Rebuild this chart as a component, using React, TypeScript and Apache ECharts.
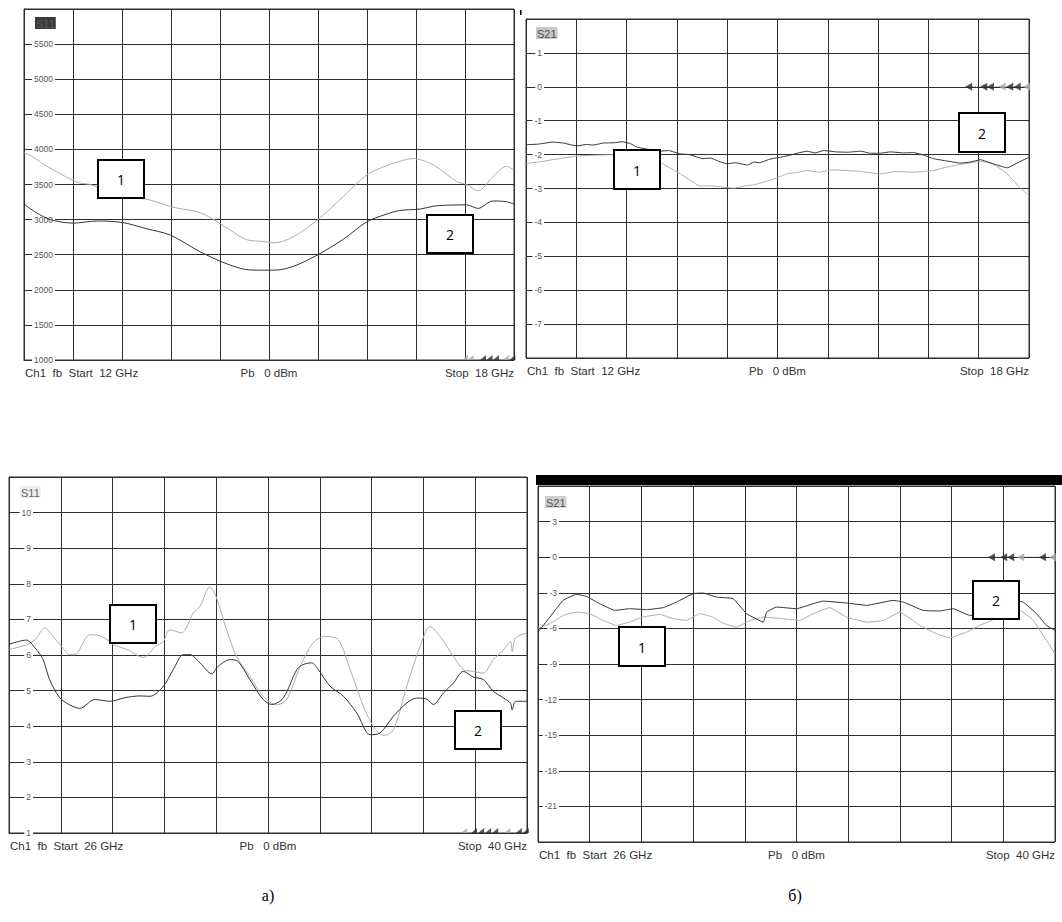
import React, { useEffect, useRef } from "react";
import * as echarts from "echarts";

// ---------- sweep ranges (GHz) ----------
const sweepLow = [12, 18];
const sweepHigh = [26, 40];

// ---------- y scales ----------
const s11LowScale = [1000, 6000, 500];
const s21LowScale = [-8, 2, 1];
const s11HighScale = [1, 11, 1];
const s21HighScale = [-24, 6, 3];

// ---------- traces [GHz, value] ----------
// a) 12–18 GHz, S11
const s11LowTrace1 = [
  [12.0, 3950], [12.1, 3900], [12.25, 3780], [12.45, 3650], [12.65, 3530], [12.81, 3500],
  [13.0, 3420], [13.3, 3330], [13.54, 3280], [13.85, 3170], [14.16, 3100], [14.46, 2900],
  [14.71, 2720], [14.89, 2690], [15.07, 2670], [15.29, 2750], [15.6, 3000], [15.91, 3330],
  [16.2, 3640], [16.42, 3760], [16.6, 3830], [16.76, 3870], [17.01, 3780], [17.3, 3540],
  [17.42, 3500], [17.56, 3410], [17.74, 3610], [17.91, 3760], [18.0, 3700],
];
const s11LowTrace2 = [
  [12.0, 3220], [12.15, 3100], [12.32, 3000], [12.6, 2950], [12.9, 2980], [13.2, 2960],
  [13.5, 2870], [13.79, 2780], [14.16, 2540], [14.46, 2380], [14.71, 2290], [14.89, 2280],
  [15.07, 2280], [15.29, 2330], [15.6, 2500], [15.91, 2720], [16.2, 2970], [16.42, 3070],
  [16.6, 3130], [16.85, 3150], [17.01, 3190], [17.18, 3205], [17.42, 3210], [17.56, 3160],
  [17.74, 3265], [17.91, 3255], [18.0, 3220],
];
// б) 12–18 GHz, S21
const s21LowTrace1 = [
  [12.0, -2.26], [12.15, -2.22], [12.32, -2.15], [12.45, -2.1], [12.62, -2.04], [12.8, -2.02],
  [12.92, -2.01], [13.15, -2.0], [13.4, -2.05], [13.6, -2.23], [13.84, -2.57], [14.08, -2.93],
  [14.2, -2.92], [14.32, -2.95], [14.48, -2.99], [14.6, -2.93], [14.72, -2.89], [14.85, -2.8],
  [14.96, -2.72], [15.11, -2.57], [15.25, -2.52], [15.35, -2.47], [15.5, -2.52], [15.65, -2.45],
  [15.83, -2.47], [16.0, -2.5], [16.22, -2.57], [16.4, -2.5], [16.62, -2.52], [16.86, -2.47],
  [17.0, -2.38], [17.18, -2.29], [17.42, -2.2], [17.57, -2.27], [17.74, -2.57], [17.89, -2.97],
  [18.0, -3.21],
];
const s21LowTrace2 = [
  [12.0, -1.71], [12.15, -1.69], [12.32, -1.63], [12.45, -1.66], [12.55, -1.72], [12.62, -1.74],
  [12.72, -1.7], [12.8, -1.72], [12.92, -1.66], [13.05, -1.65], [13.15, -1.62], [13.25, -1.68],
  [13.32, -1.78], [13.45, -1.84], [13.6, -1.9], [13.7, -1.88], [13.84, -1.98], [13.95, -2.0],
  [14.11, -2.12], [14.2, -2.1], [14.3, -2.2], [14.4, -2.27], [14.5, -2.24], [14.64, -2.31],
  [14.72, -2.22], [14.79, -2.24], [14.9, -2.14], [15.03, -2.08], [15.15, -2.02], [15.25, -1.95],
  [15.35, -1.9], [15.45, -1.95], [15.55, -1.88], [15.7, -1.92], [15.83, -1.93], [16.0, -1.9],
  [16.1, -1.96], [16.22, -1.96], [16.35, -1.92], [16.5, -1.95], [16.62, -1.94], [16.75, -2.02],
  [16.86, -2.12], [17.0, -2.18], [17.18, -2.25], [17.3, -2.22], [17.42, -2.15], [17.57, -2.27],
  [17.74, -2.39], [17.88, -2.22], [18.0, -2.08],
];
// a) 26–40 GHz, S11
const s11HighTrace1 = [
  [26.0, 6.15], [26.47, 6.29], [26.7, 6.43], [26.97, 6.76], [27.19, 6.52], [27.42, 6.24],
  [27.64, 6.01], [27.78, 6.01], [28.18, 6.57], [28.45, 6.54], [28.72, 6.38], [28.81, 6.29],
  [29.2, 6.15], [29.63, 5.93], [29.96, 6.24], [30.17, 6.38], [30.35, 6.71], [30.66, 6.62],
  [30.98, 7.18], [31.16, 7.37], [31.43, 7.91], [31.61, 7.6], [31.88, 6.71], [32.15, 5.96],
  [32.51, 5.4], [32.87, 4.84], [33.23, 4.6], [33.5, 4.74], [33.87, 5.68], [34.22, 6.34],
  [34.54, 6.52], [34.9, 6.43], [35.22, 5.59], [35.58, 4.56], [35.85, 3.99], [36.12, 3.74],
  [36.39, 3.9], [36.75, 5.12], [37.11, 6.24], [37.38, 6.8], [37.65, 6.52], [38.01, 5.96],
  [38.28, 5.59], [38.55, 5.54], [38.82, 5.49], [39.09, 5.87], [39.37, 6.15], [39.55, 6.38],
  [39.6, 6.1], [39.69, 6.48], [40.0, 6.62],
];
const s11HighTrace2 = [
  [26.0, 6.3], [26.47, 6.42], [26.7, 6.2], [26.91, 5.9], [27.1, 5.3], [27.37, 4.8],
  [27.64, 4.6], [27.91, 4.5], [28.32, 4.75], [28.72, 4.7], [29.13, 4.8], [29.54, 4.85],
  [29.81, 4.84], [30.17, 5.12], [30.44, 5.59], [30.71, 6.01], [30.89, 6.01], [31.16, 5.78],
  [31.48, 5.47], [31.65, 5.68], [31.97, 5.87], [32.19, 5.82], [32.51, 5.31], [32.87, 4.75],
  [33.1, 4.61], [33.41, 4.79], [33.78, 5.59], [33.95, 5.73], [34.18, 5.78], [34.36, 5.59],
  [34.68, 5.12], [35.04, 4.84], [35.4, 4.37], [35.76, 3.76], [36.03, 3.81], [36.39, 4.28],
  [36.75, 4.65], [37.02, 4.79], [37.29, 4.76], [37.47, 4.61], [37.74, 4.93], [38.01, 5.21],
  [38.28, 5.54], [38.55, 5.38], [38.82, 5.31], [39.09, 4.98], [39.37, 4.79], [39.55, 4.65],
  [39.6, 4.46], [39.69, 4.7], [40.0, 4.7],
];
// б) 26–40 GHz, S21
const s21HighTrace1 = [
  [26.0, -6.0], [26.32, -5.61], [26.68, -4.9], [27.04, -4.63], [27.4, -4.76], [27.76, -5.33],
  [28.12, -5.75], [28.48, -5.47], [28.84, -5.05], [29.3, -4.82], [29.66, -5.18], [30.02, -5.33],
  [30.38, -4.76], [30.74, -5.05], [31.01, -5.56], [31.38, -5.89], [31.74, -5.33], [32.1, -5.05],
  [32.64, -5.18], [33.09, -5.33], [33.45, -4.76], [33.9, -4.25], [34.36, -5.05], [34.9, -5.47],
  [35.35, -5.33], [35.8, -4.63], [36.34, -5.75], [36.79, -6.45], [37.15, -6.79], [37.61, -6.31],
  [37.96, -5.75], [38.33, -5.27], [38.7, -4.8], [39.05, -4.48], [39.41, -5.33], [39.77, -7.02],
  [40.0, -8.14],
];
const s21HighTrace2 = [
  [26.0, -6.31], [26.32, -5.05], [26.68, -3.64], [27.04, -3.13], [27.31, -3.3], [27.67, -3.92],
  [28.08, -4.48], [28.48, -4.34], [28.94, -4.42], [29.39, -4.25], [29.75, -3.78], [30.2, -3.07],
  [30.47, -3.02], [30.83, -3.36], [31.28, -3.49], [31.65, -4.76], [32.1, -5.47], [32.19, -4.63],
  [32.46, -4.2], [33.0, -4.34], [33.45, -3.92], [33.72, -3.7], [34.36, -3.86], [34.9, -4.06],
  [35.62, -3.64], [35.89, -3.78], [36.43, -4.48], [36.88, -4.53], [37.24, -4.34], [37.69, -4.9],
  [38.1, -4.9], [38.6, -4.3], [38.99, -3.7], [39.14, -3.78], [39.5, -4.76], [39.77, -5.75],
  [40.0, -6.17],
];

// ---------- reference-level markers (GHz) ----------
const s11LowMarkersDark = [17.62, 17.7, 17.78, 17.98];
const s11LowMarkersLight = [17.4, 17.47, 17.9];
const s21LowMarkersDark = [17.28, 17.46, 17.54, 17.77, 17.86];
const s21LowMarkersLight = [17.68, 17.97];
const s11HighMarkersDark = [38.57, 38.76, 38.95, 39.14, 39.78, 39.97];
const s11HighMarkersLight = [38.3, 39.47];
const s21HighMarkersDark = [38.28, 38.61, 38.8, 39.66];
const s21HighMarkersLight = [39.07, 39.93];

// ---------- texts ----------
const paramNames = ["S11", "S21", "S11", "S21"];
const startLabels = ["Start\u00a0\u00a012 GHz", "Start\u00a0\u00a012 GHz", "Start\u00a0\u00a026 GHz", "Start\u00a0\u00a026 GHz"];
const stopLabels = ["Stop\u00a0\u00a018 GHz", "Stop\u00a0\u00a018 GHz", "Stop\u00a0\u00a040 GHz", "Stop\u00a0\u00a040 GHz"];
const powerLabel = "Pb\u00a0\u00a0\u00a00 dBm";
const channelLabel = "Ch1\u00a0\u00a0fb\u00a0\u00a0";
const captions = ["а)", "б)"];

const FONT = "'Liberation Sans', Arial, sans-serif";
const DARK = "#333333";
const LIGHT = "#adadad";
const GRIDC = "#2e2e2e";

// panel geometry (pixels)
const panels = [
  { left: 24, top: 9, width: 490, height: 351, sweep: sweepLow, scale: s11LowScale, lblMargin: 31, hideMin: false, textY: 372.5,
    tagBg: "#3a3a3a", tagFg: "#5a5a5a", tagX: 35, tagY: 17 },
  { left: 526, top: 19, width: 503, height: 339, sweep: sweepLow, scale: s21LowScale, lblMargin: 18, hideMin: true, textY: 371,
    tagBg: "#c8c8c8", tagFg: "#555", tagX: 536, tagY: 27 },
  { left: 9, top: 477, width: 518, height: 356, sweep: sweepHigh, scale: s11HighScale, lblMargin: 24, hideMin: false, textY: 846,
    tagBg: "#eeeeee", tagFg: "#666", tagX: 20, tagY: 486 },
  { left: 538, top: 486, width: 517, height: 356, sweep: sweepHigh, scale: s21HighScale, lblMargin: 21, hideMin: true, textY: 854.5,
    tagBg: "#cfcfcf", tagFg: "#555", tagX: 545, tagY: 496 },
];

const traces = [
  [s11LowTrace1, s11LowTrace2],
  [s21LowTrace1, s21LowTrace2],
  [s11HighTrace1, s11HighTrace2],
  [s21HighTrace1, s21HighTrace2],
];
const markers = [
  { dark: s11LowMarkersDark, light: s11LowMarkersLight, atBottom: true },
  { dark: s21LowMarkersDark, light: s21LowMarkersLight, atBottom: false },
  { dark: s11HighMarkersDark, light: s11HighMarkersLight, atBottom: true },
  { dark: s21HighMarkersDark, light: s21HighMarkersLight, atBottom: false },
];

// callout boxes (pixels)
const callouts = [
  { t: "1", x: 98, y: 160, w: 46, h: 38 },
  { t: "2", x: 427, y: 215, w: 46, h: 38 },
  { t: "1", x: 614, y: 150, w: 46, h: 39 },
  { t: "2", x: 959, y: 113, w: 46, h: 39 },
  { t: "1", x: 110, y: 605, w: 46, h: 38 },
  { t: "2", x: 455, y: 711, w: 46, h: 38 },
  { t: "1", x: 619, y: 627, w: 46, h: 39 },
  { t: "2", x: 973, y: 581, w: 46, h: 38 },
];

const toPct = (f: number, sw: number[]) => ((f - sw[0]) / (sw[1] - sw[0])) * 100;

export default function App() {
  const ref = useRef<HTMLDivElement>(null);
  useEffect(() => {
    if (!ref.current) return;
    const chart = echarts.init(ref.current, undefined, { renderer: "svg" });

    const grid: any[] = [];
    const xAxis: any[] = [];
    const yAxis: any[] = [];
    const series: any[] = [];
    const graphic: any[] = [];

    panels.forEach((p, i) => {
      grid.push({ left: p.left, top: p.top, width: p.width, height: p.height, show: true, borderColor: GRIDC, borderWidth: 1, containLabel: false });
      xAxis.push({
        type: "value", gridIndex: i, min: 0, max: 100, interval: 10,
        axisLabel: { show: false }, axisTick: { show: false },
        axisLine: { show: true, lineStyle: { color: GRIDC, width: 1 } },
        splitLine: { show: true, lineStyle: { color: GRIDC, width: 1 } },
      });
      yAxis.push({
        type: "value", gridIndex: i, min: p.scale[0], max: p.scale[1], interval: p.scale[2],
        axisTick: { show: false },
        axisLine: { show: true, lineStyle: { color: GRIDC, width: 1 } },
        splitLine: { show: true, lineStyle: { color: GRIDC, width: 1 } },
        axisLabel: {
          inside: true, margin: p.lblMargin, align: "right", color: "#555", fontFamily: FONT, fontSize: 8.5,
          backgroundColor: "#fff", padding: [1, 2],
          showMaxLabel: false, showMinLabel: !p.hideMin,
          formatter: (v: number) => String(v),
        },
      });

      const [t1, t2] = traces[i];
      const sw = p.sweep;
      series.push({
        type: "line", xAxisIndex: i, yAxisIndex: i, data: t1.map(([f, v]) => [toPct(f, sw), v]),
        showSymbol: false, smooth: i % 2 === 0 ? 0.3 : 0.1, lineStyle: { color: LIGHT, width: 1 }, z: 3,
      });
      series.push({
        type: "line", xAxisIndex: i, yAxisIndex: i, data: t2.map(([f, v]) => [toPct(f, sw), v]),
        showSymbol: false, smooth: i % 2 === 0 ? 0.3 : 0.1, lineStyle: { color: DARK, width: 1 }, z: 4,
      });

      const m = markers[i];
      const yM = m.atBottom ? p.scale[0] : 0;
      const sym = m.atBottom ? "path://M0,6L10,0L10,6Z" : "path://M0,5L9,0L9,10Z";
      const size = m.atBottom ? [6, 5] : [7, 8];
      const off = m.atBottom ? [0, -2.5] : [0, 0];
      if (!m.atBottom) {
        const allM = [...m.dark, ...m.light].sort((a, b) => a - b);
        series.push({
          type: "line", xAxisIndex: i, yAxisIndex: i, showSymbol: false,
          data: [[toPct(allM[0], sw), 0], [100, 0]],
          lineStyle: { color: DARK, width: 1, type: [1, 2] }, z: 5,
        });
      }
      series.push({
        type: "scatter", xAxisIndex: i, yAxisIndex: i, symbol: sym, symbolSize: size, symbolOffset: off,
        data: m.dark.map((f) => [toPct(f, sw), yM]), itemStyle: { color: "#2a2a2a" }, z: 6, silent: true,
      });
      series.push({
        type: "scatter", xAxisIndex: i, yAxisIndex: i, symbol: sym, symbolSize: size, symbolOffset: off,
        data: m.light.map((f) => [toPct(f, sw), yM]), itemStyle: { color: "#a8a8a8" }, z: 6, silent: true,
      });

      // parameter tag
      graphic.push({
        type: "text", x: p.tagX, y: p.tagY, z: 50,
        style: { text: paramNames[i], font: `11px ${FONT}`, fill: p.tagFg, backgroundColor: p.tagBg, padding: [1, 1, 0, 1] },
      });
      // footer texts
      const fy = p.textY;
      const ff = `11.5px ${FONT}`;
      graphic.push({ type: "text", x: p.left + 1, y: fy, z: 50,
        style: { text: channelLabel + startLabels[i], font: ff, fill: "#333", verticalAlign: "middle", align: "left" } });
      graphic.push({ type: "text", x: p.left + p.width / 2, y: fy, z: 50,
        style: { text: powerLabel, font: ff, fill: "#333", verticalAlign: "middle", align: "center" } });
      graphic.push({ type: "text", x: p.left + p.width, y: fy, z: 50,
        style: { text: stopLabels[i], font: ff, fill: "#333", verticalAlign: "middle", align: "right" } });
    });

    callouts.forEach((c) => {
      graphic.push({ type: "rect", z: 60, shape: { x: c.x, y: c.y, width: c.w, height: c.h },
        style: { fill: "#fff", stroke: "#000", lineWidth: 2 } });
      graphic.push({ type: "text", z: 61, x: Math.round(c.x + c.w / 2), y: Math.round(c.y + c.h / 2),
        style: { text: c.t, font: `14px 'Open Sans', 'Liberation Sans', sans-serif`, fill: "#000", align: "center", verticalAlign: "middle" } });
    });

    // black bar above the last panel and small stray mark
    graphic.push({ type: "rect", z: 60, shape: { x: 536, y: 475, width: 526, height: 10 }, style: { fill: "#000" } });
    graphic.push({ type: "rect", z: 60, shape: { x: 520, y: 10, width: 1.5, height: 5 }, style: { fill: "#000" } });

    // captions
    graphic.push({ type: "text", z: 60, x: 268, y: 895,
      style: { text: captions[0], font: `16px 'Liberation Serif', 'Times New Roman', serif`, fill: "#000", align: "center", verticalAlign: "middle" } });
    graphic.push({ type: "text", z: 60, x: 795, y: 895,
      style: { text: captions[1], font: `16px 'Liberation Serif', 'Times New Roman', serif`, fill: "#000", align: "center", verticalAlign: "middle" } });

    chart.setOption({
      animation: false,
      backgroundColor: "#fff",
      grid, xAxis, yAxis, series, graphic,
    });
    return () => chart.dispose();
  }, []);

  return <div ref={ref} style={{ position: "fixed", left: 0, top: 0, width: 1062, height: 922 }} />;
}
